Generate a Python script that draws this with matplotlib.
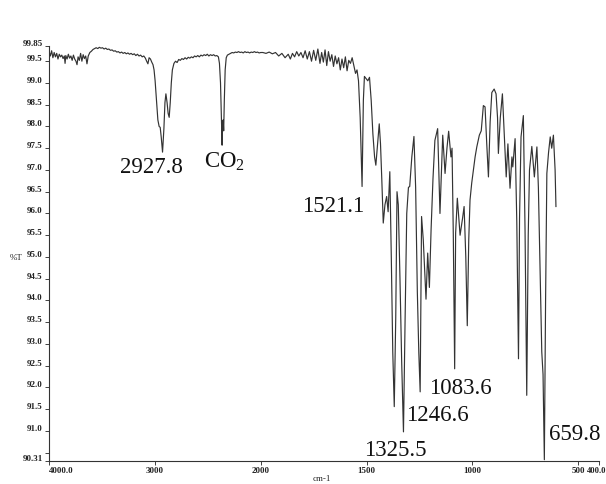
import numpy as np
import matplotlib
matplotlib.use("Agg")
import matplotlib.pyplot as plt
from matplotlib.ticker import FixedLocator, FixedFormatter

# IR spectrum: wavenumber (cm-1) and %T
wavenumber = [
    4000, 3988, 3976, 3964, 3952, 3940, 3928, 3916, 3904, 3892, 3880, 3868, 3856, 3849,
    3842, 3830, 3818, 3806, 3794, 3782, 3770, 3758, 3746, 3736, 3726, 3714, 3702, 3690,
    3678, 3666, 3654, 3642, 3630, 3615, 3600, 3585, 3570, 3555, 3540, 3525, 3510, 3495,
    3480, 3465, 3450, 3435, 3420, 3405, 3390, 3375, 3360, 3345, 3330, 3315, 3300, 3285,
    3270, 3255, 3240, 3225, 3210, 3195, 3180, 3165, 3150, 3135, 3120, 3105, 3090, 3078,
    3066, 3055, 3042, 3030, 3018, 3008, 2998, 2985, 2972, 2960, 2950, 2940, 2927.8, 2915,
    2905, 2896, 2885, 2875, 2865, 2855, 2845, 2835, 2820, 2805, 2790, 2775, 2760, 2745,
    2730, 2715, 2700, 2685, 2670, 2655, 2640, 2625, 2610, 2595, 2580, 2565, 2550, 2535,
    2520, 2505, 2490, 2475, 2460, 2445, 2430, 2415, 2400, 2390, 2380, 2372, 2365, 2360,
    2355, 2350, 2344, 2336, 2326, 2315, 2300, 2285, 2270, 2255, 2240, 2225, 2210, 2195,
    2180, 2165, 2150, 2135, 2120, 2105, 2090, 2075, 2060, 2045, 2030, 2015, 2000, 1990,
    1975, 1960, 1945, 1930, 1915, 1900, 1885, 1870, 1860, 1850, 1840, 1830, 1820, 1810,
    1800, 1790, 1780, 1770, 1760, 1750, 1740, 1730, 1720, 1712, 1704, 1696, 1688, 1680,
    1672, 1664, 1656, 1648, 1640, 1632, 1624, 1616, 1608, 1600, 1592, 1584, 1576, 1568,
    1560, 1552, 1545, 1538, 1530, 1521.1, 1515, 1510, 1502, 1494, 1486, 1478, 1470, 1462,
    1456, 1448, 1440, 1434, 1428, 1421, 1413, 1405, 1398, 1390, 1383, 1376, 1369, 1362,
    1356, 1350, 1342, 1334, 1325.5, 1318, 1310, 1302, 1296, 1286, 1276, 1268, 1260, 1253,
    1246.6, 1240, 1232, 1224, 1219, 1211, 1203, 1195, 1186, 1177, 1164, 1153, 1140, 1129,
    1120, 1112, 1101, 1096, 1090, 1083.6, 1079, 1071, 1058, 1046, 1039, 1031, 1024, 1017,
    1011, 1003, 995, 987, 979, 967, 958, 948, 940, 932, 924, 916, 908, 897, 888, 881, 877,
    868, 858, 849, 840, 832, 822, 813, 809, 798, 790, 782, 777, 770, 759, 751, 743, 736,
    730, 719, 707, 695, 688, 679, 672, 666, 659.8, 654, 648, 640, 632, 625, 617, 609, 605,
]
transmittance = [
    99.72, 99.62, 99.74, 99.58, 99.70, 99.60, 99.68, 99.55, 99.66, 99.60, 99.64, 99.56, 99.62, 99.45,
    99.63, 99.55, 99.66, 99.57, 99.62, 99.52, 99.64, 99.55, 99.50, 99.42, 99.60, 99.52, 99.68, 99.50,
    99.65, 99.56, 99.62, 99.44, 99.62, 99.70, 99.73, 99.77, 99.79, 99.81, 99.79, 99.82, 99.80, 99.81,
    99.78, 99.80, 99.77, 99.78, 99.75, 99.76, 99.73, 99.74, 99.71, 99.72, 99.69, 99.71, 99.68, 99.70,
    99.67, 99.69, 99.66, 99.68, 99.65, 99.67, 99.63, 99.66, 99.62, 99.64, 99.60, 99.62, 99.57, 99.50,
    99.44, 99.58, 99.55, 99.48, 99.42, 99.30, 99.05, 98.60, 98.15, 98.00, 97.98, 97.75, 97.41, 97.95,
    98.55, 98.75, 98.55, 98.30, 98.21, 98.55, 99.00, 99.30, 99.45, 99.50, 99.47, 99.54, 99.52, 99.56,
    99.54, 99.58, 99.55, 99.59, 99.57, 99.60, 99.58, 99.62, 99.60, 99.63, 99.60, 99.64, 99.62, 99.65,
    99.63, 99.66, 99.62, 99.65, 99.63, 99.65, 99.62, 99.63, 99.60, 99.45, 99.00, 98.20, 97.57, 98.05,
    98.15, 97.90, 98.60, 99.30, 99.58, 99.64, 99.66, 99.68, 99.70, 99.69, 99.71, 99.70, 99.72, 99.70,
    99.71, 99.69, 99.72, 99.70, 99.71, 99.69, 99.71, 99.70, 99.72, 99.70, 99.71, 99.69, 99.70, 99.70,
    99.68, 99.71, 99.67, 99.70, 99.62, 99.68, 99.58, 99.66, 99.55, 99.68, 99.60, 99.72, 99.62, 99.70,
    99.58, 99.74, 99.55, 99.72, 99.50, 99.75, 99.52, 99.78, 99.45, 99.70, 99.48, 99.76, 99.40, 99.72,
    99.50, 99.65, 99.38, 99.62, 99.44, 99.58, 99.30, 99.55, 99.35, 99.60, 99.28, 99.52, 99.45, 99.58,
    99.40, 99.22, 99.30, 99.05, 98.20, 96.62, 98.60, 99.15, 99.10, 99.05, 99.13, 98.60, 97.83, 97.30,
    97.11, 97.60, 98.06, 97.60, 96.80, 95.78, 96.20, 96.39, 96.04, 96.96, 95.00, 92.80, 91.56, 93.60,
    96.50, 96.20, 94.50, 92.60, 90.98, 93.50, 96.00, 96.60, 96.62, 97.30, 97.77, 96.60, 94.20, 92.80,
    91.90, 95.93, 95.40, 94.56, 94.03, 95.09, 94.30, 95.63, 96.80, 97.68, 97.95, 96.00, 97.80, 96.92,
    97.50, 97.89, 97.30, 97.50, 95.50, 92.43, 95.55, 96.35, 95.50, 95.90, 96.16, 95.00, 93.42, 95.40,
    96.31, 96.70, 97.00, 97.30, 97.53, 97.80, 97.90, 98.48, 98.45, 97.60, 96.84, 98.10, 98.78, 98.86,
    98.75, 98.20, 97.38, 98.20, 98.75, 97.80, 96.84, 97.60, 96.58, 97.30, 97.07, 97.72, 95.80, 92.66,
    95.90, 97.76, 98.25, 95.60, 91.82, 95.50, 97.00, 97.54, 96.84, 97.53, 96.60, 94.50, 92.82, 92.30,
    90.34, 94.00, 96.92, 97.40, 97.76, 97.50, 97.80, 97.00, 96.16,
]

# peak labels: text, wavenumber anchor, %T baseline
peak_labels = ["2927.8", "CO$_2$", "1521.1", "1083.6", "1246.6", "1325.5", "659.8"]
label_wn = [3036, 2346, 1657, 1057, 1163, 1362, 518]
label_t = [96.93, 97.06, 96.04, 91.86, 91.24, 90.42, 90.79]

x_ticks = [4000, 3000, 2000, 1500, 1000, 500, 400]
x_tick_labels = ["4000.0", "3000", "2000", "1500", "1000", "500", ""]
y_ticks = [99.85, 99.5, 99.0, 98.5, 98.0, 97.5, 97.0, 96.5, 96.0, 95.5, 95.0,
           94.5, 94.0, 93.5, 93.0, 92.5, 92.0, 91.5, 91.0, 90.5, 90.31]
y_tick_labels = ["99.85", "99.5", "99.0", "98.5", "98.0", "97.5", "97.0", "96.5", "96.0",
                 "95.5", "95.0", "94.5", "94.0", "93.5", "93.0", "92.5", "92.0", "91.5",
                 "91.0", "", "90.31"]


# instrument x axis: half the scale above 2000 cm-1 (increasing map, axis inverted by limits)
def fwd(w):
    w = np.asarray(w, dtype=float)
    return np.where(w <= 2000, w, 2000 + (w - 2000) / 2.0)


def inv(u):
    u = np.asarray(u, dtype=float)
    return np.where(u <= 2000, u, 2000 + (u - 2000) * 2.0)


plt.rcParams["font.family"] = ["Liberation Serif", "DejaVu Serif"]
plt.rcParams["mathtext.fontset"] = "custom"
plt.rcParams["mathtext.rm"] = "Liberation Serif"
plt.rcParams["mathtext.it"] = "Liberation Serif:italic"
fig = plt.figure(figsize=(6.06, 4.84), dpi=100)
ax = fig.add_axes([0.081, 0.0475, 0.908, 0.8575])

ax.plot(wavenumber, transmittance, color="#333333", linewidth=0.85)

ax.set_xscale("function", functions=(fwd, inv))
ax.set_xlim(4000, 400)
ax.set_ylim(90.31, 99.85)

ax.xaxis.set_major_locator(FixedLocator(x_ticks))
ax.xaxis.set_major_formatter(FixedFormatter(x_tick_labels))
ax.xaxis.set_minor_locator(FixedLocator([]))
ax.yaxis.set_major_locator(FixedLocator(y_ticks))
ax.yaxis.set_major_formatter(FixedFormatter(y_tick_labels))

ax.tick_params(axis="both", labelsize=6.5, length=3, width=0.6, pad=1.5, colors="#222222")
for lbl in ax.get_xticklabels() + ax.get_yticklabels():
    lbl.set_fontweight("bold")
for lbl in ax.get_yticklabels():
    lbl.set_va("baseline")
ax.get_xticklabels()[0].set_ha("left")

for side in ["top", "right"]:
    ax.spines[side].set_visible(False)
for side in ["left", "bottom"]:
    ax.spines[side].set_linewidth(0.8)
    ax.spines[side].set_color("#333333")

for txt, wx, ty in zip(peak_labels, label_wn, label_t):
    ax.text(wx, ty, txt, fontsize=16.5, ha="center", va="baseline", color="#111111")

# last tick label sits right of "500", at the page edge
fig.text(1.0, 1 - 471 / 484, "400.0", fontsize=6.2, fontweight="bold",
         ha="right", va="center", color="#222222")
fig.text(16 / 606, 1 - 258 / 484, "%T", fontsize=6.5, ha="center", va="center", color="#222222")
fig.text(322 / 606, 1 - 479 / 484, "cm-1", fontsize=6.5, ha="center", va="center", color="#222222")

fig.savefig("out.png", dpi=100, facecolor="white")
